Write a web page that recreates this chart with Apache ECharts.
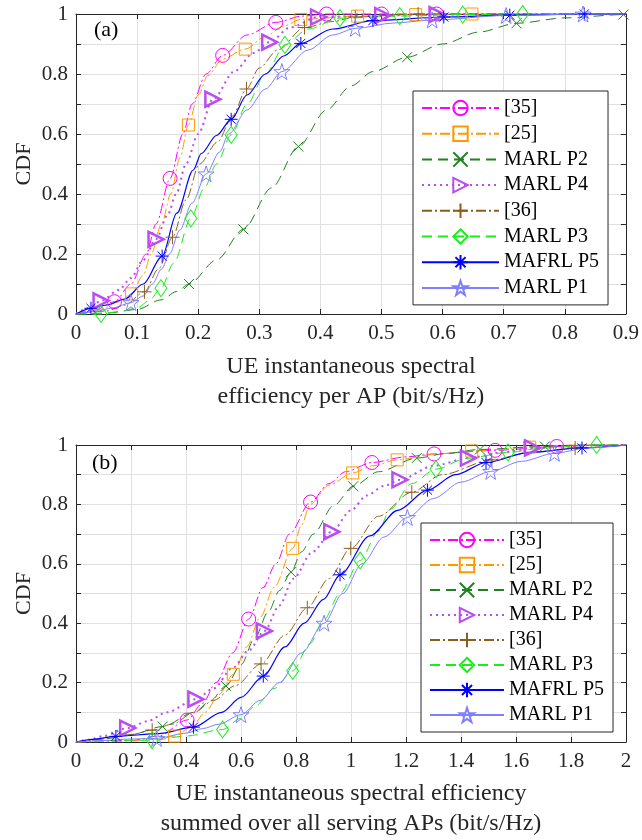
<!DOCTYPE html>
<html>
<head>
<meta charset="utf-8">
<script src="https://cdn.jsdelivr.net/npm/echarts@6/dist/echarts.min.js"></script>
<style>
html, body { margin: 0; padding: 0; background: #fff; }
#chart { width: 642px; height: 840px; }
</style>
</head>
<body>
<div id="chart"></div>
<script>
// series in legend order
const seriesNames = ['[35]', '[25]', 'MARL P2', 'MARL P4', '[36]', 'MARL P3', 'MAFRL P5', 'MARL P1'];

// ---- panel (a): per-AP spectral efficiency, curve points and marker points ----
const a35 = [[0,0],[0.03,0.012],[0.09,0.1],[0.115,0.2],[0.131,0.3],[0.175,0.6],[0.19,0.7],[0.213,0.8],[0.28,0.93],[0.37,0.993],[0.9,1]];
const a35Mk = [[0.063,0.041],[0.154,0.452],[0.24,0.862],[0.327,0.972],[0.41,1],[0.5,1],[0.59,1]];
const a25 = [[0,0],[0.04,0.015],[0.07,0.04],[0.11,0.13],[0.123,0.2],[0.14,0.3],[0.155,0.4],[0.17,0.52],[0.2,0.73],[0.216,0.795],[0.24,0.85],[0.31,0.925],[0.34,0.96],[0.9,1]];
const a25Mk = [[0.091,0.067],[0.184,0.63],[0.277,0.883],[0.368,0.982],[0.461,0.993],[0.556,0.998],[0.648,1]];
const aP2 = [[0,0],[0.05,0.003],[0.1,0.015],[0.139,0.047],[0.165,0.075],[0.23,0.18],[0.32,0.42],[0.41,0.68],[0.45,0.76],[0.486,0.808],[0.6,0.9],[0.66,0.94],[0.8,0.987],[0.9,1]];
const aP2Mk = [[0.185,0.1],[0.274,0.282],[0.364,0.558],[0.542,0.856],[0.721,0.969],[0.896,0.998]];
const aP4 = [[0,0],[0.02,0.02],[0.07,0.08],[0.09,0.12],[0.11,0.18],[0.15,0.33],[0.164,0.4],[0.18,0.5],[0.2,0.6],[0.26,0.81],[0.29,0.87],[0.35,0.955],[0.7,1],[0.9,1]];
const aP4Mk = [[0.041,0.044],[0.131,0.249],[0.224,0.716],[0.317,0.906],[0.397,0.99],[0.502,0.995],[0.591,0.998]];
const a36 = [[0,0],[0.05,0.01],[0.08,0.03],[0.135,0.15],[0.18,0.38],[0.202,0.5],[0.232,0.574],[0.256,0.66],[0.3,0.82],[0.33,0.88],[0.42,0.975],[0.9,1]];
const a36Mk = [[0.112,0.074],[0.158,0.256],[0.279,0.75],[0.374,0.955],[0.457,0.99],[0.56,1]];
const aP3 = [[0,0],[0.07,0.008],[0.1,0.02],[0.12,0.045],[0.16,0.17],[0.21,0.42],[0.23,0.5],[0.28,0.7],[0.31,0.8],[0.38,0.95],[0.9,1]];
const aP3Mk = [[0.041,0],[0.139,0.086],[0.188,0.319],[0.254,0.597],[0.342,0.897],[0.432,0.986],[0.53,0.993],[0.633,0.998],[0.731,1]];
const aP5 = [[0,0],[0.05,0.03],[0.08,0.05],[0.11,0.1],[0.165,0.336],[0.192,0.48],[0.205,0.535],[0.23,0.595],[0.28,0.73],[0.31,0.8],[0.34,0.86],[0.42,0.95],[0.9,1]];
const aP5Mk = [[0.0245,0.019],[0.141,0.193],[0.254,0.649],[0.368,0.902],[0.486,0.978],[0.602,0.99],[0.71,0.996],[0.832,1]];
const aP1 = [[0,0],[0.03,0.008],[0.06,0.02],[0.11,0.06],[0.125,0.1],[0.14,0.15],[0.153,0.2],[0.17,0.28],[0.19,0.37],[0.235,0.54],[0.25,0.6],[0.28,0.68],[0.31,0.75],[0.38,0.88],[0.42,0.93],[0.52,0.97],[0.9,1]];
const aP1Mk = [[0.09,0.038],[0.213,0.467],[0.337,0.808],[0.457,0.952],[0.583,0.98],[0.704,0.995],[0.83,1]];

// ---- panel (b): summed over all serving APs ----
const b35 = [[0,0],[0.1,0.002],[0.2,0.005],[0.3,0.02],[0.46,0.13],[0.509,0.2],[0.57,0.3],[0.68,0.52],[0.727,0.6],[0.776,0.7],[0.92,0.87],[0.98,0.91],[1.2,0.96],[1.9,1],[2,1]];
const b35Mk = [[0.404,0.074],[0.628,0.414],[0.853,0.808],[1.076,0.941],[1.302,0.97],[1.524,0.982],[1.748,0.995]];
const b25 = [[0,0],[0.2,0.003],[0.3,0.01],[0.42,0.05],[0.47,0.1],[0.52,0.16],[0.62,0.32],[0.67,0.42],[0.72,0.52],[0.82,0.73],[0.851,0.8],[0.92,0.865],[1.08,0.93],[1.3,0.968],[1.8,1],[2,1]];
const b25Mk = [[0.358,0.02],[0.572,0.228],[0.788,0.652],[1.006,0.906],[1.168,0.95],[1.439,0.98],[1.65,0.993]];
const bP2 = [[0,0],[0.1,0.01],[0.2,0.025],[0.43,0.1],[0.49,0.14],[0.6,0.26],[0.65,0.35],[0.7,0.44],[0.74,0.51],[0.82,0.64],[0.863,0.7],[0.936,0.795],[1.1,0.91],[1.35,0.972],[1.85,1],[2,1]];
const bP2Mk = [[0.315,0.052],[0.545,0.189],[0.782,0.572],[1.008,0.861],[1.239,0.956],[1.469,0.985],[1.705,0.995]];
const bP4 = [[0,0],[0.05,0.008],[0.1,0.02],[0.26,0.07],[0.33,0.1],[0.5,0.18],[0.57,0.25],[0.63,0.31],[0.74,0.46],[0.79,0.55],[0.86,0.64],[1.0,0.78],[1.057,0.83],[1.12,0.862],[1.3,0.93],[1.55,0.975],[1.9,1],[2,1]];
const bP4Mk = [[0.188,0.047],[0.436,0.144],[0.685,0.374],[0.93,0.708],[1.178,0.883],[1.427,0.956],[1.66,0.99]];
const b36 = [[0,0],[0.1,0.01],[0.2,0.025],[0.35,0.06],[0.43,0.1],[0.5,0.14],[0.58,0.19],[0.76,0.36],[0.92,0.55],[1.1,0.76],[1.33,0.9],[1.65,0.975],[2,1]];
const b36Mk = [[0.277,0.04],[0.673,0.263],[0.841,0.452],[0.999,0.652],[1.221,0.841],[1.512,0.95],[1.815,0.99]];
const bP3 = [[0,0],[0.1,0.005],[0.4,0.02],[0.6,0.08],[0.65,0.12],[0.72,0.18],[0.85,0.33],[0.9,0.41],[0.96,0.5],[1.1,0.71],[1.142,0.783],[1.22,0.87],[1.42,0.955],[1.7,0.99],[2,1]];
const bP3Mk = [[0.277,0.006],[0.533,0.042],[0.788,0.239],[1.033,0.611],[1.309,0.919],[1.571,0.975],[1.893,1]];
const bP5 = [[0,0],[0.07,0.01],[0.3,0.028],[0.53,0.1],[0.6,0.15],[0.76,0.32],[0.83,0.4],[0.9,0.48],[1.069,0.694],[1.17,0.78],[1.38,0.9],[1.65,0.975],[2,1]];
const bP5Mk = [[0.145,0.019],[0.427,0.05],[0.681,0.222],[0.96,0.563],[1.278,0.848],[1.491,0.941],[1.84,0.99]];
const bP1 = [[0,0],[0.1,0.005],[0.2,0.01],[0.4,0.03],[0.46,0.045],[0.52,0.06],[0.67,0.14],[0.74,0.2],[0.82,0.3],[0.97,0.5],[1.04,0.6],[1.12,0.69],[1.3,0.82],[1.4,0.875],[1.62,0.945],[1.86,0.99],[2,1]];
const bP1Mk = [[0.293,0.012],[0.6,0.092],[0.902,0.4],[1.205,0.756],[1.508,0.911],[1.74,0.972]];

const panelA = [[a35,a35Mk],[a25,a25Mk],[aP2,aP2Mk],[aP4,aP4Mk],[a36,a36Mk],[aP3,aP3Mk],[aP5,aP5Mk],[aP1,aP1Mk]];
const panelB = [[b35,b35Mk],[b25,b25Mk],[bP2,bP2Mk],[bP4,bP4Mk],[b36,b36Mk],[bP3,bP3Mk],[bP5,bP5Mk],[bP1,bP1Mk]];

// marker shapes
function starPath() {
	let d = '';
	for (let i = 0; i < 10; i++) {
		const r = i % 2 ? 1.95 : 5;
		const a = -Math.PI / 2 + i * Math.PI / 5;
		d += (i ? 'L' : 'M') + (5 + r * Math.cos(a)).toFixed(2) + ',' + (5 + r * Math.sin(a)).toFixed(2);
	}
	return 'path://' + d + 'Z';
}
const dashDot = [10, 3, 2, 3];
const styles = [
	{ color: '#FF00FF', dash: dashDot, width: 1, symbol: 'circle', size: 14, bw: 1 },
	{ color: '#FF9900', dash: dashDot, width: 1, symbol: 'rect', size: 12, bw: 1 },
	{ color: '#1F821F', dash: [10, 6], width: 1, symbol: 'path://M0,0L10,10M10,0L0,10', size: 10, bw: 1 },
	{ color: '#B94CF2', dash: [2, 4], width: 2, symbol: 'path://M0,0L10,5L0,10Z', size: 15, bw: 2.5 },
	{ color: '#8B5E1E', dash: dashDot, width: 1, symbol: 'path://M5,0L5,10M0,5L10,5', size: 14, bw: 1 },
	{ color: '#19EE19', dash: [10, 6], width: 1, symbol: 'diamond', size: [12, 17], bw: 1 },
	{ color: '#0000FF', dash: 'solid', width: 1.2, symbol: 'path://M5,0L5,10M0,5L10,5M1.5,1.5L8.5,8.5M8.5,1.5L1.5,8.5', size: 13, bw: 1 },
	{ color: '#8080FF', dash: 'solid', width: 1, symbol: starPath(), size: 16, bw: 1 }
];

function buildData(curve, marks) {
	const pts = curve.map(p => ({ value: p, symbol: 'none' }));
	marks.forEach(m => pts.push({ value: m }));
	pts.sort((p, q) => p.value[0] - q.value[0]);
	return pts;
}

function makeSeries(panel, axisIdx) {
	return panel.map(([curve, marks], i) => {
		const s = styles[i];
		return {
			name: seriesNames[i],
			type: 'line',
			xAxisIndex: axisIdx,
			yAxisIndex: axisIdx,
			smooth: 0.3,
			smoothMonotone: 'x',
			clip: false,
			symbol: s.symbol,
			symbolSize: s.size,
			showAllSymbol: true,
			lineStyle: { color: s.color, width: s.width, type: s.dash },
			itemStyle: { color: 'rgba(0,0,0,0)', borderColor: s.color, borderWidth: s.bw },
			emphasis: { disabled: true },
			animation: false,
			data: buildData(curve, marks)
		};
	});
}

const textColor = '#262626';
const serif = 'Liberation Serif';
const gridLine = { show: true, lineStyle: { color: '#e0e0e0', width: 1 } };
const tick = { show: true, inside: true, length: 5, lineStyle: { color: textColor } };
const axLine = { show: true, onZero: false, lineStyle: { color: textColor, width: 1 } };

function xAxes(grid, max, step, name, gap) {
	return [{
		type: 'value', gridIndex: grid, min: 0, max: max, interval: step, position: 'bottom',
		axisLine: axLine, axisTick: tick, splitLine: gridLine,
		axisLabel: { color: textColor, fontFamily: serif, fontSize: 21, margin: 9,
			formatter: v => String(+v.toFixed(1)) },
		name: name, nameLocation: 'middle', nameGap: gap, nameMoveOverlap: false,
		nameTextStyle: { color: textColor, fontFamily: serif, fontSize: 24, lineHeight: 30 }
	}, {
		type: 'value', gridIndex: grid, min: 0, max: max, interval: step, position: 'top',
		axisLine: axLine, axisTick: tick, splitLine: { show: false }, axisLabel: { show: false }
	}];
}
function yAxes(grid) {
	return [{
		type: 'value', gridIndex: grid, min: 0, max: 1, interval: 0.1, position: 'left',
		axisLine: axLine, axisTick: tick, splitLine: gridLine,
		axisLabel: { color: textColor, fontFamily: serif, fontSize: 21, margin: 8,
			formatter: v => (Math.round(v * 10) % 2 === 0 ? String(+v.toFixed(1)) : '') },
		name: 'CDF', nameLocation: 'middle', nameGap: 41, nameMoveOverlap: false,
		nameTextStyle: { color: textColor, fontFamily: serif, fontSize: 22 }
	}, {
		type: 'value', gridIndex: grid, min: 0, max: 1, interval: 0.1, position: 'right',
		axisLine: axLine, axisTick: tick, splitLine: { show: false }, axisLabel: { show: false }
	}];
}

function legendAt(left, top, iw, gap) {
	return {
		data: seriesNames, orient: 'vertical', left: left, top: top,
		itemWidth: iw, itemHeight: 18, itemGap: gap,
		padding: [7, 9, 7, 8],
		backgroundColor: '#fff', borderColor: textColor, borderWidth: 1,
		textStyle: { color: '#000', fontFamily: serif, fontSize: 20 },
		selectedMode: false
	};
}

var myChart = echarts.init(document.getElementById('chart'));
var option = {
	backgroundColor: '#fff',
	animation: false,
	grid: [
		{ left: 76, top: 14, width: 550, height: 300 },
		{ left: 76, top: 445, width: 550, height: 300 }
	],
	xAxis: xAxes(0, 0.9, 0.1, 'UE instantaneous spectral\nefficiency per AP (bit/s/Hz)', 38)
		.concat(xAxes(1, 2, 0.2, 'UE instantaneous spectral efficiency\nsummed over all serving APs (bit/s/Hz)', 37)),
	yAxis: yAxes(0).concat(yAxes(1)),
	legend: [legendAt(413, 91, 77, 5.7), legendAt(421, 523, 74, 5)],
	graphic: [
		{ type: 'text', left: 94, top: 19, style: { text: '(a)', fill: '#000', font: '22px "Liberation Serif"' } },
		{ type: 'text', left: 92, top: 452, style: { text: '(b)', fill: '#000', font: '22px "Liberation Serif"' } }
	],
	series: makeSeries(panelA, 0).concat(makeSeries(panelB, 2))
};
myChart.setOption(option);
</script>
</body>
</html>
